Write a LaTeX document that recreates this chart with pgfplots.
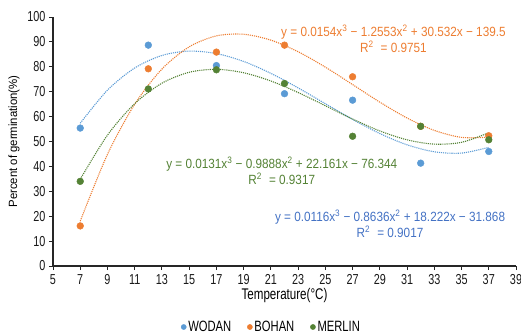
\documentclass[border=0pt]{standalone}
\usepackage{pgfplots}
\pgfplotsset{compat=1.18}
\usepackage{fontspec}
\setmainfont[FakeStretch=0.75]{Liberation Sans}
\newfontfamily\eqfont[FakeStretch=0.88]{Liberation Sans}
\newfontfamily\ylfont[FakeStretch=0.95]{Liberation Sans}
\definecolor{cblue}{HTML}{5B9BD5}
\definecolor{corange}{HTML}{ED7D31}
\definecolor{cgreen}{HTML}{548235}
\definecolor{tblue}{HTML}{4472C4}
\definecolor{tgreen}{HTML}{548235}
\definecolor{torange}{HTML}{ED7D31}
\begin{document}
\begin{tikzpicture}
\begin{axis}[
  at={(0,0)}, anchor=origin,
  scale only axis, width=463bp, height=249bp,
  xmin=5, xmax=39, ymin=0, ymax=100,
  xtick={5,7,...,39}, ytick={0,10,...,100},
  axis x line=bottom, axis y line=left,
  axis line style={-, black!85, line width=1.1pt},
  tick style={black!85, line width=0.9pt},
  tick align=outside, major tick length=4bp,
  /pgf/number format/assume math mode=true,
  ticklabel style={font=\fontsize{14.5}{14.5}\selectfont, text=black!90},
  xticklabel style={yshift=-1bp},
  xlabel={Temperature(°C)},
  ylabel={\ylfont Percent of germination(\%)},
  xlabel style={at={(rel axis cs:0.5,0)}, anchor=center, yshift=-30bp, font=\fontsize{15.5}{15.5}\selectfont},
  ylabel style={at={(rel axis cs:0,0.5)}, anchor=center, yshift=39bp, font=\fontsize{12}{12}\selectfont},
  legend style={at={(rel axis cs:0.5,0)}, anchor=center, yshift=-61bp, xshift=-13bp, draw=none, fill=none,
     font=\fontsize{15}{15}\selectfont, legend columns=3,
     /tikz/every even column/.append style={column sep=14bp}},
  legend image code/.code={\draw[#1, mark size=2.6bp] plot coordinates {(0.25cm,0bp)};},
  clip=false,
]
% trendlines (from the chart's printed cubic fits, sampled)
\addplot[cblue, densely dotted, line width=1.1pt, smooth, forget plot] coordinates {
(7,57.35)(9,70.63)(11,79.52)(13,84.56)(15,86.30)(17,85.32)(19,82.15)(21,77.37)
(23,71.53)(25,65.18)(27,58.89)(29,53.19)(31,48.67)(33,45.87)(35,45.34)(37,47.65)};
\addplot[corange, densely dotted, line width=1.1pt, smooth, forget plot] coordinates {
(7,18.00)(9,44.84)(11,64.96)(13,79.10)(15,88.01)(17,92.42)(19,93.07)(21,90.70)
(23,86.05)(25,79.86)(27,72.87)(29,65.81)(31,59.43)(33,54.46)(35,51.65)(37,51.73)};
\addplot[cgreen, densely dotted, line width=1.1pt, smooth, forget plot] coordinates {
(7,34.83)(9,52.56)(11,65.22)(13,73.42)(15,77.80)(17,78.99)(19,77.61)(21,74.30)
(23,69.67)(25,64.37)(27,59.02)(29,54.24)(31,50.67)(33,48.94)(35,49.67)(37,53.50)};
% data points
\addplot[only marks, mark=*, mark size=3.4bp, color=cblue, mark options={draw=none, fill=cblue}] coordinates {
(7,55.4)(12,88.7)(17,80.5)(22,69.2)(27,66.6)(32,41.3)(37,46.0)};
\addlegendentry{WODAN}
\addplot[only marks, mark=*, mark size=3.4bp, color=corange, mark options={draw=none, fill=corange}] coordinates {
(7,16.1)(12,79.2)(17,85.9)(22,88.7)(27,76.0)(32,56.1)(37,52.3)};
\addlegendentry{BOHAN}
\addplot[only marks, mark=*, mark size=3.4bp, color=cgreen, mark options={draw=none, fill=cgreen}] coordinates {
(7,34.0)(12,71.1)(17,78.8)(22,73.3)(27,52.1)(32,56.1)(37,50.7)};
\addlegendentry{MERLIN}
% equations
\node[text=torange, align=center, font=\eqfont\fontsize{13.4}{16}\selectfont] at (axis cs:30.0,91.3)
  {y = 0.0154x\textsuperscript{3} − 1.2553x\textsuperscript{2} + 30.532x − 139.5\\R\textsuperscript{2}\hspace{7bp}= 0.9751};
\node[text=tgreen, align=center, font=\eqfont\fontsize{13.4}{16}\selectfont] at (axis cs:21.8,38.3)
  {y = 0.0131x\textsuperscript{3} − 0.9888x\textsuperscript{2} + 22.161x − 76.344\\R\textsuperscript{2}\hspace{7bp}= 0.9317};
\node[text=tblue, align=center, font=\eqfont\fontsize{13.4}{16}\selectfont] at (axis cs:29.75,17.0)
  {y = 0.0116x\textsuperscript{3} − 0.8636x\textsuperscript{2} + 18.222x − 31.868\\R\textsuperscript{2}\hspace{7bp}= 0.9017};
\end{axis}
\pgfresetboundingbox
\path (-53bp,-69bp) rectangle (468bp,266bp);
\end{tikzpicture}
\end{document}
